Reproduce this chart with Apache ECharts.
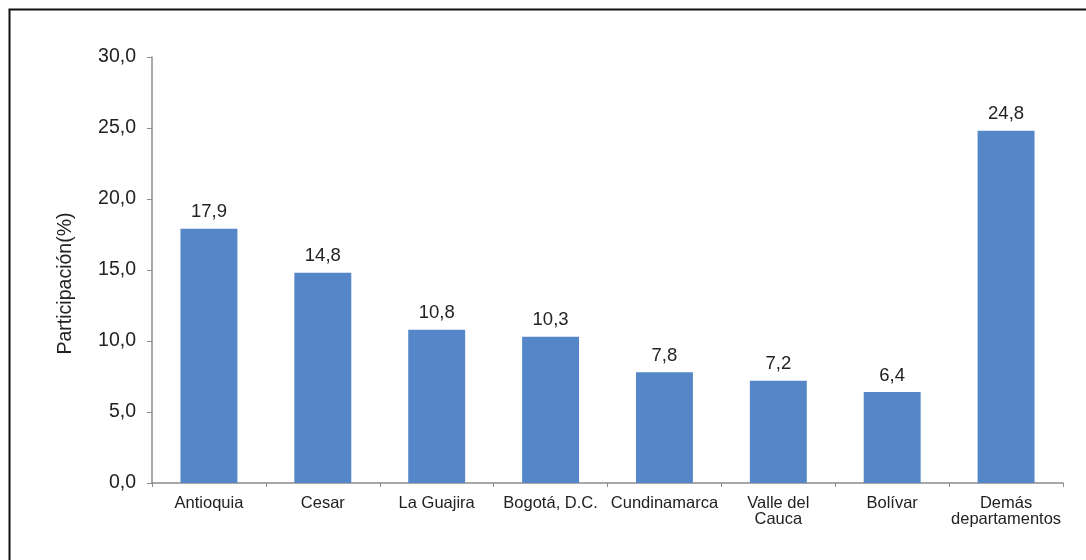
<!DOCTYPE html>
<html><head><meta charset="utf-8">
<script src="https://cdn.jsdelivr.net/npm/echarts@6/dist/echarts.min.js"></script>
<style>html,body{margin:0;padding:0;background:#fff}#c{width:1086px;height:560px}</style>
</head><body><div id="c"></div>
<script>
const categories = ['Antioquia','Cesar','La Guajira','Bogotá, D.C.','Cundinamarca','Valle del\nCauca','Bolívar','Demás\ndepartamentos'];
const values = [17.9, 14.8, 10.8, 10.3, 7.8, 7.2, 6.4, 24.8];
const yAxisName = 'Participación(%)';
const fmt = v => Number(v).toFixed(1).replace('.', ',');
const chart = echarts.init(document.getElementById('c'));
chart.setOption({
  animation:false,
  textStyle:{fontFamily:'Liberation Sans, Arial, sans-serif'},
  graphic:[{type:'rect',shape:{x:9.5,y:9.5,width:1200,height:700},style:{fill:'none',stroke:'#111',lineWidth:2}}],
  grid:{left:152,right:23,top:57,bottom:77},
  xAxis:{type:'category',data:categories,
    axisLine:{lineStyle:{color:'#8c8c8c',width:1.5}},
    axisTick:{show:true,length:4,lineStyle:{color:'#8c8c8c'}},
    axisLabel:{color:'#222',fontSize:16.5,lineHeight:16,margin:12,interval:0}},
  yAxis:{type:'value',min:0,max:30,interval:5,
    name:yAxisName,nameLocation:'middle',nameGap:76,nameRotate:90,
    nameTextStyle:{color:'#222',fontSize:19.5,padding:[0,27,0,0]},
    axisLine:{show:true,lineStyle:{color:'#8c8c8c',width:1.5}},
    axisTick:{show:true,length:5,lineStyle:{color:'#8c8c8c'}},
    splitLine:{show:false},
    axisLabel:{color:'#222',fontSize:19.5,margin:16,formatter:fmt}},
  series:[{type:'bar',data:values,barWidth:'50%',
    itemStyle:{color:'#5587c8'},
    label:{show:true,position:'top',distance:7,color:'#222',fontSize:18.5,formatter:p=>fmt(p.value)}}]
});
</script></body></html>
